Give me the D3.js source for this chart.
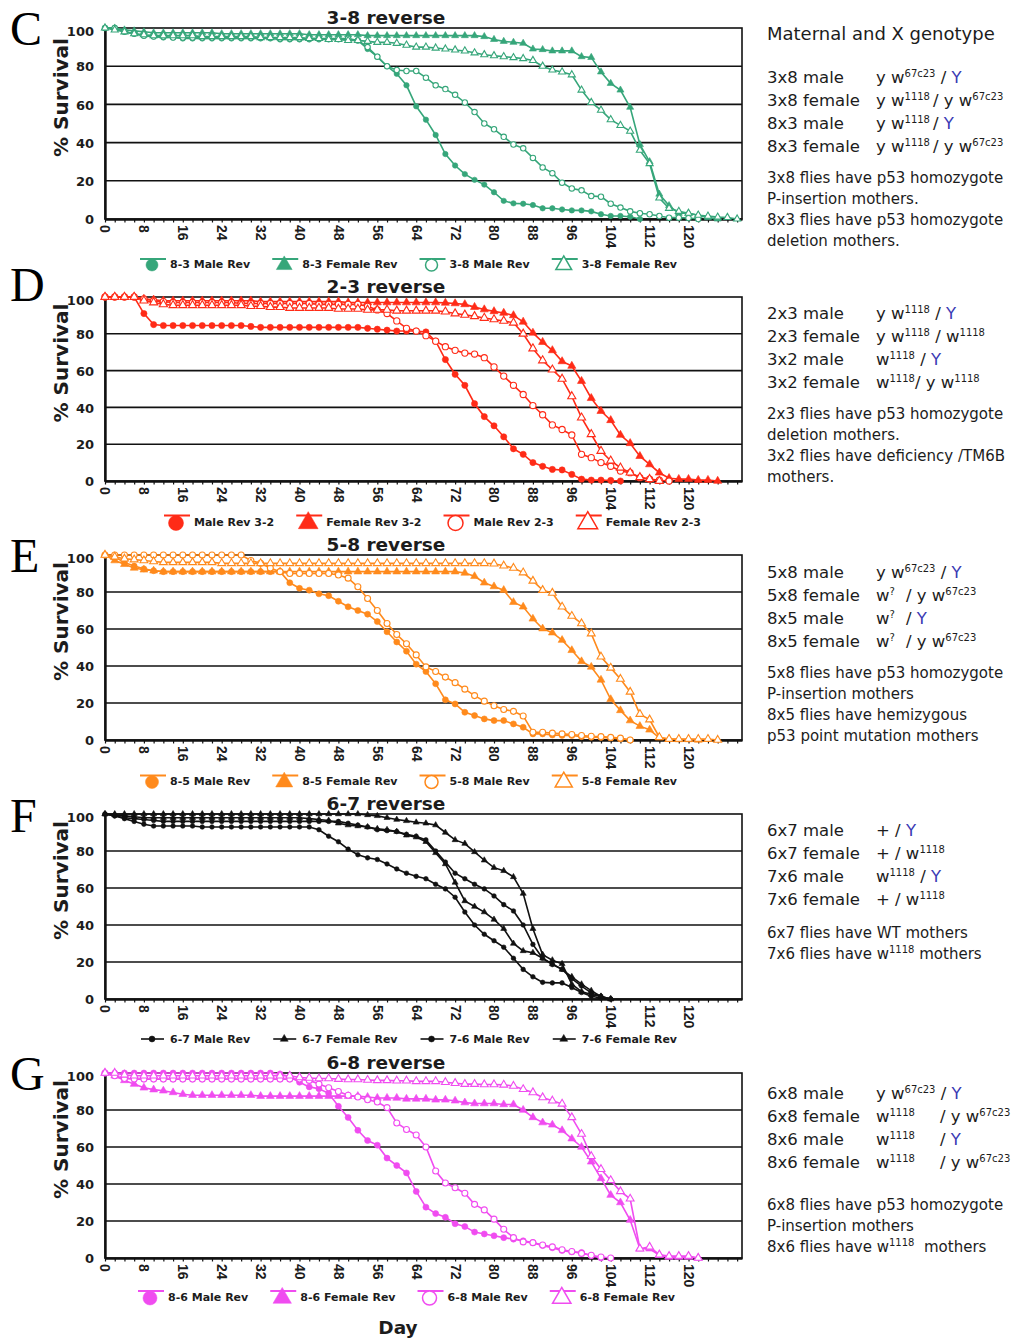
<!DOCTYPE html>
<html>
<head>
<meta charset="utf-8">
<script src="https://cdn.jsdelivr.net/npm/d3@7"></script>
<style>
body { margin: 0; background: #fff; }
svg { display: block; }
</style>
</head>
<body>
<div id="chart"></div>
<script>
// survey days (every 2nd day)
const days = [0,2,4,6,8,10,12,14,16,18,20,22,24,26,28,30,32,34,36,38,40,42,44,46,48,50,52,54,56,58,
  60,62,64,66,68,70,72,74,76,78,80,82,84,86,88,90,92,94,96,98,100,102,104,106,108,110,112,114,116,118,
  120,122,124,126,128,130];
const xTicks = [0,8,16,24,32,40,48,56,64,72,80,88,96,104,112,120];
const yTicks = [0,20,40,60,80,100];

// panel C: 3-8 reverse
const c83Male = [100,100,98,97,96,95.5,95,95,94.5,94.5,
  94.5,94.5,94.5,94.5,94.5,94.5,94.5,94.5,94,94,
  94,94,94,94,94,94,93.5,89,85,80,
  76,70,59,52,44,34,28,23.5,20.5,18,
  14,9.5,8.2,8,7.3,5.6,5.6,5,4.5,4.5,
  4,2.5,1.6,1.6,1.2,0];
const c83Female = [100,100,99,98.5,98,97.5,97.5,97.5,97.5,97.5,
  97.5,97.5,97,97,97,97,97,97,97,97,
  97,96.5,96.5,96.5,96.5,96.5,96.5,96,96,96,
  96,96,96,96,96,96,96,96,96,95.5,
  94,93,92.5,92,89,88.7,88,88,88,85,
  84.6,77,71,67.5,58.5,39,30,13,7,3,
  3,2,0.7,0];
const c38Male = [100,100,98,97,96,95.5,95.5,95,95,95,
  95,95,95,95,95,95,95,95,94.5,94.5,
  94.5,94.5,94.5,94.5,94.5,94.5,93.5,90,85,80,
  78,77.5,77.5,74,70,68,65,61,56,50,
  47,43,39,37,32,27,24,19,16,15,
  12,11.7,8,6,4,3,2.5,1.6,0.7,0.7,
  0.5,0];
const c38Female = [100,99,98,97,96.5,96,96,96,96,96,
  95.5,95.5,95.5,95.5,95.5,95.5,95,95,95,95,
  95,94.5,94.5,94,94,93.5,93.5,93,92.5,92.5,
  92,91,90,90,89.5,89,88.5,88,87,86,
  85.5,85,84.5,84,83,80,78,77,75.5,67.5,
  61,57,52,49,46,36,29,11,5.6,4,
  3,2,1.5,1,0.8,0];

// panel D: 2-3 reverse
const dMale32 = [100,100,100,100,91,85,84.5,84.5,84.5,84.5,
  84.5,84.5,84.5,84.5,84.5,84,83.5,83.5,83.5,83.5,
  83.5,83.5,83.5,83.5,83.5,83.5,83.5,83,82.5,82,
  81.5,81.5,81.5,81,76,66,58,52,42,35,
  30,24,17.5,14.5,10,8,6.3,6,3.6,1,
  0.5,0.5,0.3,0];
const dFemale32 = [100,100,100,100,99,98.5,98,98,98,98,
  98,98,98,98,98,98,97.5,97.5,97.5,97.5,
  97.5,97.5,97.5,97.5,97.5,97,97,97,97,97,
  97,97,97,97,97,96.8,96.5,96,94.5,93.2,
  92.2,91.3,90,86.5,80.5,75.5,71,65,62.5,54.3,
  45,38,33,25,20.5,13.5,9,4.5,1.5,1,
  1,0.5,0.5,0];
const dMale23 = [100,100,100,100,99,98,97.5,97,97,97,
  97,97,97,97,96.5,96.5,96.5,96.5,96.5,96.5,
  96.5,96.5,96,96,96,96,96,95,93,91,
  87,83,81.5,79,76,73,71,69.5,69,67,
  62,57,52,47,41,36,30.5,28,25,14.5,
  12.7,10,8,5.4,4.5,1.8,1,0.4,0];
const dFemale23 = [100,100,100,100,98,97,96,95.5,95.5,95.5,
  95.5,95.5,95.5,95.5,95.5,95,95,94.5,94.5,94,
  94,94,94,94,93.5,93.5,93.5,93,93,93,
  92.5,92.5,92.5,92.5,92.5,92,91,90.3,89.5,88.6,
  87.8,87,86,80,72,65.5,60.5,55.5,46,34.4,
  25.4,16.3,11,7.2,4.5,2,1,0];

// panel E: 5-8 reverse
const eMale85 = [100,99,96,94,92.5,91.5,91,91,91,91,
  91,91,91,91,91,91,91,91,91,85,
  82,81,79,78,75,72,70,68,64,58.5,
  53,48,41,37,30.4,21.7,19.5,15,13.2,11.4,
  10.5,10.5,8.7,6.9,3.3,3.3,2.7,2.5,2.4,1.8,
  1.5,1.4,1.1,0.6,0];
const eFemale85 = [100,97,95,93,92,91.5,91,91,91,91,
  91,91,91,91,91,91,91,91,91,91,
  91,91,91,91,91,91,91,91,91,91,
  91,91,91,91,91,91,91,90.3,88.5,85,
  83,81,74.5,72,65.5,60.2,58,54,48.5,42.5,
  39.5,32.5,22,16,10.5,7.5,5.5,1.2,0.5,0.3,
  0.3,0];
const eMale58 = [100,100,100,100,100,100,100,100,100,100,
  100,100,100,100,100,97,95.5,93,91,90,
  90,90,90,90,89.2,87.5,82.8,76.5,70,63,
  57,52,46,39.5,37,34,31,27.5,24,21,
  18.5,16.5,15.5,13,4.2,4.2,3.7,3.3,3,2.4,
  2,1.8,1.4,1,0];
const eFemale58 = [100,99,98,97.5,97,96.5,96,96,96,96,
  96,96,95.5,95.5,95.5,95.5,95.5,95.5,95.5,95.5,
  95.5,95.5,95.5,95.5,95.5,95.5,95.5,95.5,95.5,95.5,
  95.5,95.5,95.5,95.5,95.5,95.5,95.5,95.5,95.5,95.5,
  95.3,94.2,93,90.5,86,81,79.5,72,67,63,
  57.5,45,39,33,26,14,11,1.5,0.5,0.5,
  0.5,0.5,0.5,0];

// panel F: 6-7 reverse
const fMale67 = [100,99,97.5,96,94.5,93.5,93.5,93.5,93.5,93.5,
  93,93,93,93,93,93,93,93,93,93,
  93,93,91.5,88,85,81,78,76.3,75.4,73,
  70.3,68,66.3,65,62,59.5,55,47,40,35,
  31.5,28,22,16,12,9,8.7,8.7,6.2,3.5,
  1.5,0.5,0];
const fFemale67 = [100,99.5,99,98.5,98,98,98,98,98,98,
  98,98,98,98,98,98,98,98,98,98,
  98,97.5,97,96.5,95,94,93.5,93,92,91.5,
  90.5,88.5,87.5,85,79,73,63,53,50,47,
  43,38,30,26,25,22,19,16,12,8,
  4.5,1.4,0];
const fMale76 = [100,99,98,97.5,97,96.5,96,96,96,96,
  96,96,96,96,96,96,96,96,96,96,
  96,96,96,96,96,95,94,93,91.5,91,
  90.5,89,88,86,80,74,68,65,62,59.5,
  55.7,51,47.6,40,29.5,22,18.6,16,11,7,
  3.3,1.4,0];
const fFemale76 = [100,100,100,100,100,100,100,100,100,100,
  100,100,100,100,100,100,100,100,100,100,
  100,100,100,100,100,100,100,99.5,99,98,
  97,96.3,95.5,95,94,90,86,84,79.5,75,
  71,69.3,66,57,38,24,21,19,8,4,
  2.4,1.4,0];

// panel G: 6-8 reverse
const gMale86 = [100,100,100,100,100,100,100,100,100,100,
  100,100,100,100,100,100,100,100,99.5,98,
  95,92.5,91.5,89,82,76,69,63.5,61,54,
  50,46,36,27.5,24,22,18.5,17,14,13,
  12,11,10.2,9.3,8.3,6.7,5.5,4,3.3,3,
  1.2,0];
const gFemale86 = [100,98.5,96,94,92,91,90.4,89.5,88.5,88,
  88,88,88,88,88,88,87.5,87.5,87.5,87.5,
  87.5,87.5,87.5,87.5,87.5,87.5,87.5,87,86.5,86.5,
  86.5,86,86,86,85.5,85.5,85,84,83.5,83.5,
  83.5,83,83,80,76,73.2,72,69,64.5,60,
  52,43,34,30,20.5,5,5,1.5,0.5,0.5,
  0.5,0];
const gMale68 = [100,98.5,97,96.7,96.7,96.7,96.7,96.7,96.7,96.7,
  96.7,96.7,96.7,96.7,96.7,96.7,96.7,96.7,96.7,96.7,
  96.7,96,94,92,90,88,87,85.5,84.3,81.3,
  73,69.5,66.5,60,47,40.5,38,35,29,26,
  21,15.5,11,8.7,8.3,7,6,4.5,3.5,2.5,
  1.5,0.5,0];
const gFemale68 = [100,100,99,98.5,98.5,98.5,98.5,98.5,98.5,98.5,
  98.5,98.5,98.5,98.5,98.5,98.5,98.5,98.5,98.5,98.5,
  97.6,97.3,97,97,96.7,96.5,96.5,96.2,96,96,
  95.8,95.8,95.5,95.5,95.5,95,94.5,94,94,93.8,
  93.8,93.6,93,91.2,89.5,86.8,85,83.3,76,67,
  55,48,42,36,32,5,6,1.8,1,1,
  1,0];

const legendC = ["8-3 Male Rev","8-3 Female Rev","3-8 Male Rev","3-8 Female Rev"];
const legendD = ["Male Rev 3-2","Female Rev 3-2","Male Rev 2-3","Female Rev 2-3"];
const legendE = ["8-5 Male Rev","8-5 Female Rev","5-8 Male Rev","5-8 Female Rev"];
const legendF = ["6-7 Male Rev","6-7 Female Rev","7-6 Male Rev","7-6 Female Rev"];
const legendG = ["8-6 Male Rev","8-6 Female Rev","6-8 Male Rev","6-8 Female Rev"];

// genotype notes: ^..^ superscript, |..| blue, \t jump to aligned column
const genoC = [["3x8 male","y w^67c23^ / |Y|"],["3x8 female","y w^1118^\t/ y w^67c23^"],
  ["8x3 male","y w^1118^\t/ |Y|"],["8x3 female","y w^1118^\t/ y w^67c23^"]];
const notesC = ["3x8 flies have p53 homozygote","P-insertion mothers.","8x3 flies have p53 homozygote","deletion mothers."];
const genoD = [["2x3 male","y w^1118^ / |Y|"],["2x3 female","y w^1118^ / w^1118^"],
  ["3x2 male","w^1118^ / |Y|"],["3x2 female","w^1118^/ y w^1118^"]];
const notesD = ["2x3 flies have p53 homozygote","deletion mothers.","3x2 flies have deficiency /TM6B","mothers."];
const genoE = [["5x8 male","y w^67c23^ / |Y|"],["5x8 female","w^?^\t/ y w^67c23^"],
  ["8x5 male","w^?^\t/ |Y|"],["8x5 female","w^?^\t/ y w^67c23^"]];
const notesE = ["5x8 flies have p53 homozygote","P-insertion mothers","8x5 flies have hemizygous","p53 point mutation mothers"];
const genoF = [["6x7 male","+ / |Y|"],["6x7 female","+ / w^1118^"],
  ["7x6 male","w^1118^ / |Y|"],["7x6 female","+ / w^1118^"]];
const notesF = ["6x7 flies have WT mothers","7x6 flies have w^1118^ mothers"];
const genoG = [["6x8 male","y w^67c23^ / |Y|"],["6x8 female","w^1118^\t/ y w^67c23^"],
  ["8x6 male","w^1118^\t/ |Y|"],["8x6 female","w^1118^\t/ y w^67c23^"]];
const notesG = ["6x8 flies have p53 homozygote","P-insertion mothers","8x6 flies have w^1118^  mothers"];

const markerKinds = [
  { shape: d3.symbolCircle, filled: true },
  { shape: d3.symbolTriangle, filled: true },
  { shape: d3.symbolCircle, filled: false },
  { shape: d3.symbolTriangle, filled: false }
];

const panels = [
  { letter: "C", title: "3-8 reverse", color: "#36a67a", top: 28, bottom: 219, letterY: 45, legendY: 264, legendX: 152,
    mk: 2.7, lgR: 6, allFilled: false, names: legendC, series: [c83Male, c83Female, c38Male, c38Female],
    geno: genoC, notes: notesC, genoY: 83, notesY: 183, tab: 933 },
  { letter: "D", title: "2-3 reverse", color: "#ff2b17", top: 297, bottom: 481, letterY: 301, legendY: 522, legendX: 176,
    mk: 3.1, lgR: 7.5, allFilled: false, names: legendD, series: [dMale32, dFemale32, dMale23, dFemale23],
    geno: genoD, notes: notesD, genoY: 319, notesY: 419, tab: 930 },
  { letter: "E", title: "5-8 reverse", color: "#ff8a1c", top: 555, bottom: 740, letterY: 572, legendY: 781, legendX: 152,
    mk: 3, lgR: 6.5, allFilled: false, names: legendE, series: [eMale85, eFemale85, eMale58, eFemale58],
    geno: genoE, notes: notesE, genoY: 578, notesY: 678, tab: 906 },
  { letter: "F", title: "6-7 reverse", color: "#111111", top: 814, bottom: 999, letterY: 832, legendY: 1039, legendX: 152,
    mk: 2.3, lgR: 3, allFilled: true, names: legendF, series: [fMale67, fFemale67, fMale76, fFemale76],
    geno: genoF, notes: notesF, genoY: 836, notesY: 938, tab: 930 },
  { letter: "G", title: "6-8 reverse", color: "#f04cf0", top: 1073, bottom: 1258, letterY: 1090, legendY: 1297, legendX: 150,
    mk: 3, lgR: 7, allFilled: false, names: legendG, series: [gMale86, gFemale86, gMale68, gFemale68],
    geno: genoG, notes: notesG, genoY: 1099, notesY: 1210, tab: 940 }
];

const sans = "'DejaVu Sans', Verdana, sans-serif";
const arial = "'Liberation Sans', Arial, sans-serif";
const ink = "#1c1c1c";
const blue = "#3a3ab4";

const svg = d3.select("#chart").append("svg").attr("width", 1018).attr("height", 1340)
  .style("background", "#fff");

const x = d3.scaleLinear().domain([0, 131]).range([105, 742]);

function richText(sel, str, tabX, supSize) {
  let pendingX = null, shift = 0;
  str.split(/(\^[^^]*\^|\|[^|]*\||\t)/).filter(s => s !== "").forEach(tok => {
    if (tok === "\t") { pendingX = tabX; return; }
    const t = sel.append("tspan");
    if (pendingX !== null) { t.attr("x", pendingX); pendingX = null; }
    if (tok.startsWith("^")) {
      t.text(tok.slice(1, -1)).attr("font-size", supSize).attr("dy", -6 - shift);
      shift = -6;
    } else {
      if (shift) { t.attr("dy", -shift); shift = 0; }
      if (tok.startsWith("|")) t.text(tok.slice(1, -1)).attr("fill", blue);
      else t.text(tok);
    }
  });
}

panels.forEach(p => {
  const y = d3.scaleLinear().domain([0, 100]).range([p.bottom, p.top]);
  const g = svg.append("g");

  // panel letter and title
  g.append("text").attr("x", 10).attr("y", p.letterY)
    .attr("font-family", "'Liberation Serif', 'Times New Roman', serif").attr("font-size", 48)
    .attr("fill", "#000").text(p.letter);
  g.append("text").attr("x", 386).attr("y", p.top - 4).attr("text-anchor", "middle")
    .attr("font-family", sans).attr("font-weight", "bold").attr("font-size", 18.5)
    .attr("fill", ink).text(p.title);

  // grid + frame
  g.append("g").selectAll("line").data(yTicks.filter(v => v > 0 && v < 100)).join("line")
    .attr("x1", x.range()[0]).attr("x2", x.range()[1])
    .attr("y1", d => y(d)).attr("y2", d => y(d))
    .attr("stroke", "#111").attr("stroke-width", 1.6);
  g.append("rect").attr("x", x.range()[0]).attr("y", p.top)
    .attr("width", x.range()[1] - x.range()[0]).attr("height", p.bottom - p.top)
    .attr("fill", "none").attr("stroke", "#111").attr("stroke-width", 1.6);

  // x axis
  const xa = g.append("g").attr("transform", `translate(0,${p.bottom})`)
    .call(d3.axisBottom(x).tickValues(d3.range(0, 131, 2)).tickSize(3.5).tickSizeOuter(0)
      .tickFormat(d => xTicks.includes(d) ? d : ""));
  xa.select(".domain").attr("stroke", "#111").attr("stroke-width", 2.4);
  xa.selectAll(".tick line").attr("stroke", "#111").attr("stroke-width", 1.2);
  xa.selectAll(".tick text")
    .attr("transform", "rotate(90)").attr("text-anchor", "start")
    .attr("x", 6).attr("y", 0).attr("dy", "0.36em")
    .attr("font-family", arial).attr("font-weight", "bold").attr("font-size", 14).attr("fill", ink);

  // y axis
  const ya = g.append("g").attr("transform", `translate(${x.range()[0]},0)`)
    .call(d3.axisLeft(y).tickValues(yTicks).tickSize(0).tickPadding(11));
  ya.select(".domain").attr("stroke", "#111").attr("stroke-width", 2.4);
  ya.selectAll(".tick text").attr("dy", d => d === 100 ? "0.6em" : "0.36em")
    .attr("font-family", sans).attr("font-weight", "bold").attr("font-size", 13).attr("fill", ink);

  g.append("text")
    .attr("transform", `translate(68,${(p.top + p.bottom) / 2 - 26}) rotate(-90)`)
    .attr("text-anchor", "middle")
    .attr("font-family", sans).attr("font-weight", "bold").attr("font-size", 20)
    .attr("fill", ink).text("% Survival");

  // series
  const line = d3.line().x((v, i) => x(days[i])).y(v => y(v));
  const circleSize = Math.PI * p.mk * p.mk;
  p.series.forEach((vals, si) => {
    const kind = markerKinds[si];
    const filled = kind.filled || p.allFilled;
    const sg = g.append("g");
    sg.append("path").attr("d", line(vals)).attr("fill", "none")
      .attr("stroke", p.color).attr("stroke-width", 1.6);
    const sym = d3.symbol().type(kind.shape)
      .size(kind.shape === d3.symbolTriangle ? circleSize * 0.95 : circleSize);
    sg.selectAll("path.m").data(vals).join("path").attr("class", "m")
      .attr("transform", (v, i) => `translate(${x(days[i])},${y(v)})`)
      .attr("d", sym)
      .attr("fill", filled ? p.color : "#fff")
      .attr("stroke", p.color).attr("stroke-width", filled ? 0.6 : 1.1);
  });

  // legend
  let cx = p.legendX;
  p.names.forEach((name, si) => {
    const kind = markerKinds[si];
    const filled = kind.filled || p.allFilled;
    const lg = g.append("g").attr("transform", `translate(${cx},${p.legendY})`);
    const big = p.lgR > 4;
    const ly = big ? -p.lgR + 1 : 0;
    lg.append("line").attr("x1", big ? -12 : -11).attr("x2", big ? 14 : 12)
      .attr("y1", ly).attr("y2", ly).attr("stroke", p.color).attr("stroke-width", big ? 2 : 1.6);
    const area = Math.PI * p.lgR * p.lgR;
    lg.append("path")
      .attr("d", d3.symbol().type(kind.shape).size(kind.shape === d3.symbolTriangle ? area * 0.95 : area))
      .attr("transform", `translate(0,${big ? 1 : 0})`)
      .attr("fill", filled ? p.color : "#fff")
      .attr("stroke", p.color).attr("stroke-width", filled ? 0.5 : 1.5);
    const t = lg.append("text").attr("x", 18).attr("y", 4)
      .attr("font-family", sans).attr("font-weight", "bold").attr("font-size", 11)
      .attr("fill", ink).text(name);
    cx += 18 + t.node().getComputedTextLength() + 34;
  });

  // right-hand genotype text
  const rt = g.append("g").attr("font-family", sans).attr("fill", ink);
  p.geno.forEach((row, i) => {
    const yy = p.genoY + i * 23;
    rt.append("text").attr("x", 767).attr("y", yy).attr("font-size", 16.5).text(row[0]);
    const t = rt.append("text").attr("x", 876).attr("y", yy).attr("font-size", 16.5)
      .style("white-space", "pre");
    richText(t, row[1], p.tab, 10);
  });
  p.notes.forEach((line, i) => {
    const t = rt.append("text").attr("x", 767).attr("y", p.notesY + i * 21).attr("font-size", 15)
      .style("white-space", "pre");
    richText(t, line, 0, 10);
  });
});

svg.append("text").attr("x", 767).attr("y", 40)
  .attr("font-family", sans).attr("font-size", 18).attr("fill", ink)
  .text("Maternal and X genotype");

svg.append("text").attr("x", 398).attr("y", 1334).attr("text-anchor", "middle")
  .attr("font-family", sans).attr("font-weight", "bold").attr("font-size", 18.5)
  .attr("fill", ink).text("Day");
</script>
</body>
</html>
